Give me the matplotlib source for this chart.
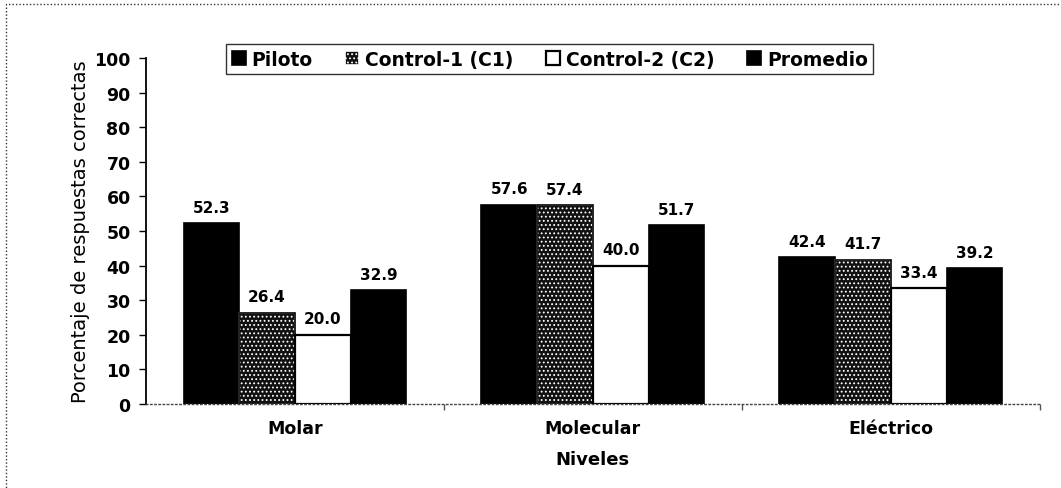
import matplotlib
matplotlib.use("Agg")
import matplotlib.pyplot as plt
from matplotlib.patches import Rectangle
import numpy as np

plt.rcParams['font.family'] = ['DejaVu Sans']
plt.rcParams['hatch.linewidth'] = 0.8

niveles = ["Molar", "Molecular", "Eléctrico"]
series = ["Piloto", "Control-1 (C1)", "Control-2 (C2)", "Promedio"]
piloto = [52.3, 57.6, 42.4]
control1 = [26.4, 57.4, 41.7]
control2 = [20.0, 40.0, 33.4]
promedio = [32.9, 51.7, 39.2]
yticks = [0, 10, 20, 30, 40, 50, 60, 70, 80, 90, 100]

fig = plt.figure(figsize=(10.61, 4.89), dpi=100)
ax = fig.add_axes([0.1376, 0.172, 0.8424, 0.707])

x = np.arange(len(niveles))
w = 0.187
styles = [
    dict(facecolor="black", edgecolor="black"),
    dict(facecolor="#111111", edgecolor="white", hatch="...."),
    dict(facecolor="white", edgecolor="black"),
    dict(facecolor="black", edgecolor="black"),
]
values = [piloto, control1, control2, promedio]
handles = []
for i, (vals, st, name) in enumerate(zip(values, styles, series)):
    pos = x + (i - 1.5) * w
    bars = ax.bar(pos, vals, width=w, label=name, linewidth=1.2, **st)
    if i == 1:
        # outline for the stippled bars
        ax.bar(pos, vals, width=w, facecolor="none", edgecolor="black", linewidth=1.2)
    if i == 2:
        for b in bars:
            b.set_linewidth(1.6)
    handles.append(bars)
    for p, v in zip(pos, vals):
        ax.text(p, v + 2.4, f"{v:.1f}", ha="center", va="bottom",
                fontsize=11, fontweight="bold")

ax.set_xlim(-0.5, 2.5)
ax.set_ylim(0, 100)
ax.set_yticks(yticks)
ax.set_yticklabels([str(t) for t in yticks], fontsize=12.5, fontweight="bold")
ax.set_xticks(x)
ax.set_xticklabels(niveles, fontsize=12.5, fontweight="bold")
ax.set_xticks([0.5, 1.5, 2.5], minor=True)
ax.tick_params(axis="x", which="major", length=0, pad=11)
ax.tick_params(axis="x", which="minor", length=4, width=1, color="#555555", direction="out")
ax.tick_params(axis="y", length=5, width=1, direction="out", pad=6)

for s in ["top", "right"]:
    ax.spines[s].set_visible(False)
ax.spines["left"].set_linewidth(1.3)
ax.spines["bottom"].set_linestyle((0, (1, 2)))
ax.spines["bottom"].set_color("#444444")
ax.spines["bottom"].set_linewidth(1)

ax.set_ylabel("Porcentaje de respuestas correctas", fontsize=14, labelpad=3)
ax.set_xlabel("Niveles", fontsize=13, fontweight="bold", labelpad=9)

leg = fig.legend(handles=handles, labels=series, loc="center",
                 bbox_to_anchor=(0.518, 0.877), ncol=4, frameon=True,
                 fancybox=False, edgecolor="black",
                 prop=dict(size=13.5, weight="bold"),
                 handlelength=0.75, handleheight=0.75, handletextpad=0.3,
                 columnspacing=1.75, borderpad=0.3, borderaxespad=0)
leg.get_frame().set_linewidth(1.0)

# dotted outer frame
fig.patches.append(Rectangle((0.006, -0.05), 1.1, 1.04, transform=fig.transFigure,
                             fill=False, edgecolor="#333333", linewidth=1,
                             linestyle=(0, (1, 1.5))))

fig.savefig("out.png", dpi=100, facecolor="white")
